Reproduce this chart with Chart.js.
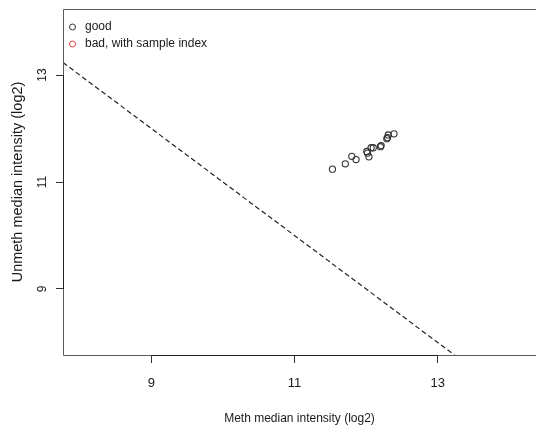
<!DOCTYPE html>
<html>
<head>
<meta charset="utf-8">
<script src="https://cdn.jsdelivr.net/npm/chart.js@4"></script>
<style>
  html, body { margin: 0; padding: 0; background: #ffffff; overflow: hidden; }
  #wrap { width: 536px; height: 425px; position: relative; }
</style>
</head>
<body>
<div id="wrap"><canvas id="qc" width="536" height="425"></canvas></div>
<script>
// Median log2 intensities per sample
const methMedian   = [11.53, 11.71, 11.80, 11.86, 12.01, 12.04, 12.07, 12.10, 12.02, 12.20, 12.21, 12.29, 12.31, 12.30, 12.39];
const unmethMedian = [11.24, 11.34, 11.48, 11.42, 11.57, 11.47, 11.64, 11.64, 11.54, 11.66, 11.68, 11.81, 11.88, 11.83, 11.90];

// Samples whose mean of meth/unmeth medians falls below this are flagged
const badSampleCutoff = 10.5;

const xTicks = [9, 11, 13];
const yTicks = [9, 11, 13];

const xRange = [7.767, 14.373];
const yRange = [7.766, 14.234];

const legendLabels = ['good', 'bad, with sample index'];
const legendColors = ['#333333', '#ee3b3b'];

const FONT = '"Liberation Sans", Arial, Helvetica, sans-serif';

// Cutoff line: meth + unmeth = 2 * cutoff, spanning the plot region
const cutoffLine = [
  { x: xRange[0], y: 2 * badSampleCutoff - xRange[0] },
  { x: 2 * badSampleCutoff - yRange[0], y: yRange[0] }
];

const goodPoints = methMedian.map((m, i) => ({ x: m, y: unmethMedian[i] }));

// Frame of the plot region plus the axis segment between outer ticks
const framePlugin = {
  id: 'frame',
  afterDatasetsDraw(chart) {
    const { ctx, chartArea: a, scales } = chart;
    ctx.save();
    ctx.strokeStyle = '#5a5a5a';
    ctx.lineWidth = 1;
    ctx.beginPath();
    ctx.moveTo(a.right + 2, a.top + 0.5);
    ctx.lineTo(a.left + 0.5, a.top + 0.5);
    ctx.lineTo(a.left + 0.5, a.bottom + 0.5);
    ctx.lineTo(a.right + 2, a.bottom + 0.5);
    ctx.stroke();
    ctx.strokeStyle = '#222222';
    ctx.beginPath();
    const x0 = scales.x.getPixelForValue(xTicks[0]);
    const x1 = scales.x.getPixelForValue(xTicks[xTicks.length - 1]);
    ctx.moveTo(x0, a.bottom + 0.5);
    ctx.lineTo(x1, a.bottom + 0.5);
    const y0 = scales.y.getPixelForValue(yTicks[0]);
    const y1 = scales.y.getPixelForValue(yTicks[yTicks.length - 1]);
    ctx.moveTo(a.left + 0.5, y0);
    ctx.lineTo(a.left + 0.5, y1);
    ctx.stroke();
    ctx.restore();
  }
};

// Legend in the top-left corner of the plot region
const cornerLegend = {
  id: 'cornerLegend',
  afterDraw(chart) {
    const { ctx, chartArea: a } = chart;
    ctx.save();
    ctx.font = '12px ' + FONT;
    ctx.textBaseline = 'middle';
    legendLabels.forEach((lab, i) => {
      const cy = a.top + 18 + i * 17;
      const cx = a.left + 9.5;
      ctx.beginPath();
      ctx.arc(cx, cy, 3, 0, Math.PI * 2);
      ctx.strokeStyle = legendColors[i];
      ctx.lineWidth = 1;
      ctx.stroke();
      ctx.fillStyle = '#1a1a1a';
      ctx.fillText(lab, a.left + 22, cy);
    });
    ctx.restore();
  }
};

new Chart(document.getElementById('qc'), {
  type: 'scatter',
  data: {
    datasets: [
      {
        type: 'line',
        label: 'cutoff',
        data: cutoffLine,
        borderColor: '#222222',
        borderWidth: 1.2,
        borderDash: [5, 3],
        pointRadius: 0,
        fill: false
      },
      {
        label: legendLabels[0],
        data: goodPoints,
        pointStyle: 'circle',
        pointRadius: 3.1,
        pointBorderWidth: 1.1,
        pointBorderColor: legendColors[0],
        pointBackgroundColor: 'rgba(0,0,0,0)',
        borderColor: legendColors[0],
        backgroundColor: 'rgba(0,0,0,0)'
      }
    ]
  },
  options: {
    responsive: false,
    devicePixelRatio: 1,
    animation: false,
    layout: { autoPadding: false, padding: { top: 9, right: 0, left: 0, bottom: 0 } },
    plugins: {
      legend: { display: false },
      tooltip: { enabled: false }
    },
    scales: {
      x: {
        type: 'linear',
        min: xRange[0],
        max: xRange[1],
        afterBuildTicks(s) { s.ticks = xTicks.map(v => ({ value: v })); },
        afterFit(s) { s.height = 70; s.paddingLeft = 0; s.paddingRight = 0; },
        grid: { display: true, drawOnChartArea: false, drawTicks: true, tickLength: 8, color: '#333333' },
        border: { display: false },
        ticks: { color: '#1a1a1a', font: { family: FONT, size: 13 }, padding: 13, maxRotation: 0 },
        title: {
          display: true,
          text: 'Meth median intensity (log2)',
          color: '#1a1a1a',
          font: { family: FONT, size: 12 },
          padding: { top: 0, bottom: -1 }
        }
      },
      y: {
        type: 'linear',
        min: yRange[0],
        max: yRange[1],
        afterBuildTicks(s) { s.ticks = yTicks.map(v => ({ value: v })); },
        afterFit(s) { s.width = 63; s.paddingTop = 0; s.paddingBottom = 0; },
        grid: { display: true, drawOnChartArea: false, drawTicks: true, tickLength: 7, color: '#333333' },
        border: { display: false },
        ticks: {
          color: '#1a1a1a',
          font: { family: FONT, size: 12 },
          minRotation: 90,
          maxRotation: 90,
          crossAlign: 'center',
          padding: 7
        },
        title: {
          display: true,
          text: 'Unmeth median intensity (log2)',
          color: '#1a1a1a',
          font: { family: FONT, size: 14.5 },
          padding: { top: 9, bottom: 0 }
        }
      }
    }
  },
  plugins: [framePlugin, cornerLegend]
});
</script>
</body>
</html>
